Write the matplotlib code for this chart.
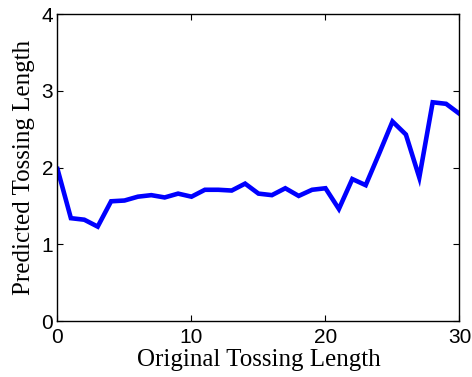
import matplotlib
matplotlib.use("Agg")
import matplotlib.pyplot as plt

x_values = list(range(0, 31))
y_values = [1.98, 1.34, 1.32, 1.23, 1.56, 1.57, 1.62, 1.64, 1.61, 1.66, 1.62,
            1.71, 1.71, 1.70, 1.79, 1.66, 1.64, 1.73, 1.63, 1.71, 1.73,
            1.46, 1.85, 1.77, 2.18, 2.60, 2.43, 1.87, 2.85, 2.83, 2.70]
x_ticks = [0, 10, 20, 30]
y_ticks = [0, 1, 2, 3, 4]

fig = plt.figure(figsize=(4.72, 3.77), dpi=100)
ax = fig.add_axes([0.1218, 0.1485, 0.8517, 0.8143])
ax.plot(x_values, y_values, color="#0000ff", lw=3.3, solid_joinstyle="miter")
ax.set_xlim(0, 30)
ax.set_ylim(0, 4)
ax.set_xticks(x_ticks)
ax.set_yticks(y_ticks)
ax.tick_params(direction="in", top=True, right=True, length=4, width=0.8,
               labelsize=15, pad=3)
ax.tick_params(axis="x", pad=5)
for lab in ax.get_xticklabels() + ax.get_yticklabels():
    lab.set_fontfamily("Liberation Sans")
for s in ax.spines.values():
    s.set_linewidth(1.0)
ax.set_xlabel("Original Tossing Length", family="Liberation Serif", fontsize=18, labelpad=1.5)
ax.set_ylabel("Predicted Tossing Length", family="Liberation Serif", fontsize=18, labelpad=4.5)
fig.savefig("out.png", dpi=100)
